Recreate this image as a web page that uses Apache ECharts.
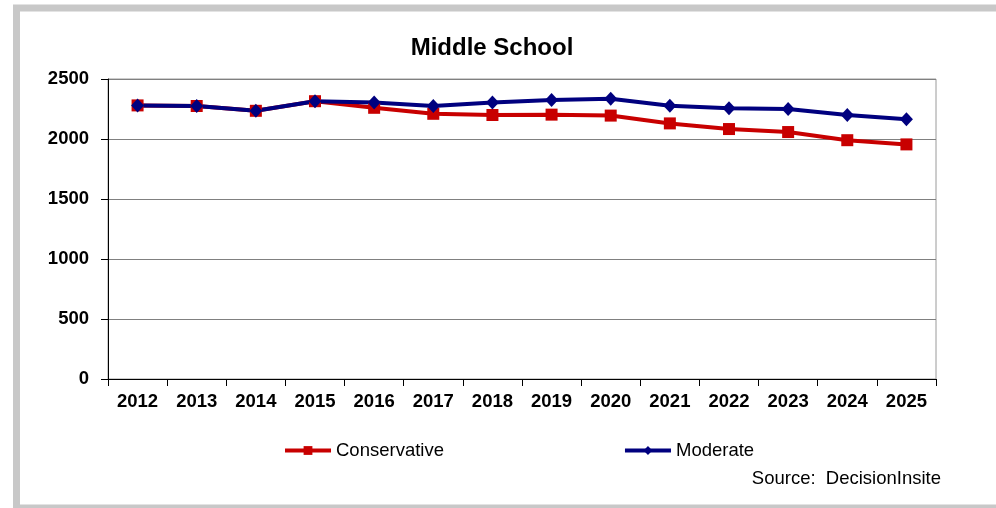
<!DOCTYPE html>
<html>
<head>
<meta charset="utf-8">
<script src="https://cdn.jsdelivr.net/npm/echarts@6/dist/echarts.min.js"></script>
<style>
html,body{margin:0;padding:0;background:#fff;}
#c{width:996px;height:508px;}
</style>
</head>
<body>
<div id="c"></div>
<script>
var years = ['2012','2013','2014','2015','2016','2017','2018','2019','2020','2021','2022','2023','2024','2025'];
var conservative = [2280, 2275, 2235, 2315, 2260, 2210, 2200, 2203, 2195, 2130, 2083, 2058, 1990, 1955];
var moderate = [2280, 2275, 2235, 2315, 2305, 2275, 2305, 2325, 2335, 2278, 2256, 2250, 2200, 2164];
var titleText = 'Middle School';
var sourceText = 'Source:  DecisionInsite';

var FONT = '"Liberation Sans", Arial, sans-serif';
var chart = echarts.init(document.getElementById('c'), null, {renderer:'canvas'});
chart.setOption({
  animation: false,
  backgroundColor: '#fff',
  title: {
    text: titleText,
    left: 487, top: 31, textAlign: 'center',
    textStyle: {fontFamily: FONT, fontSize: 24, fontWeight: 'bold', color: '#000'}
  },
  legend: {
    data: ['Conservative', 'Moderate'],
    left: 283, top: 441, padding: 0,
    itemWidth: 46, itemHeight: 11, itemGap: 179,
    lineStyle: {width: 4},
    textStyle: {fontFamily: FONT, fontSize: 18.5, color: '#000'}
  },
  graphic: [
    {type: 'rect', shape: {x: 16.5, y: 8, width: 1000, height: 500}, style: {fill: 'none', stroke: '#c8c8c8', lineWidth: 7}, z: 100},
    {type: 'text', right: 55, top: 469, style: {text: sourceText, font: '18.5px ' + FONT, fill: '#000'}}
  ],
  grid: {left: 108, right: 60, top: 79, bottom: 129, show: true, borderColor: '#9a9a9a', borderWidth: 1, containLabel: false},
  xAxis: {
    type: 'category', data: years, boundaryGap: true,
    axisLine: {lineStyle: {color: '#000', width: 1}},
    axisTick: {show: true, length: 7, alignWithLabel: false, lineStyle: {color: '#000'}},
    axisLabel: {margin: 13, fontFamily: FONT, fontSize: 18.5, fontWeight: 'bold', color: '#000', interval: 0},
    splitLine: {show: false}
  },
  yAxis: {
    type: 'value', min: 0, max: 2500, interval: 500,
    axisLine: {show: true, lineStyle: {color: '#000', width: 1}},
    axisTick: {show: true, length: 7, lineStyle: {color: '#000'}},
    axisLabel: {margin: 19, fontFamily: FONT, fontSize: 18.5, fontWeight: 'bold', color: '#000',
      formatter: function (v) { return String(v); }},
    splitLine: {show: true, lineStyle: {color: '#808080', width: 1}}
  },
  series: [
    {
      name: 'Conservative', type: 'line', data: conservative,
      symbol: 'rect', symbolSize: 12, showSymbol: true,
      lineStyle: {color: '#c80000', width: 4},
      itemStyle: {color: '#c80000'}
    },
    {
      name: 'Moderate', type: 'line', data: moderate,
      symbol: 'diamond', symbolSize: [13, 14], showSymbol: true,
      lineStyle: {color: '#00007f', width: 4},
      itemStyle: {color: '#00007f'}
    }
  ]
});
</script>
</body>
</html>
